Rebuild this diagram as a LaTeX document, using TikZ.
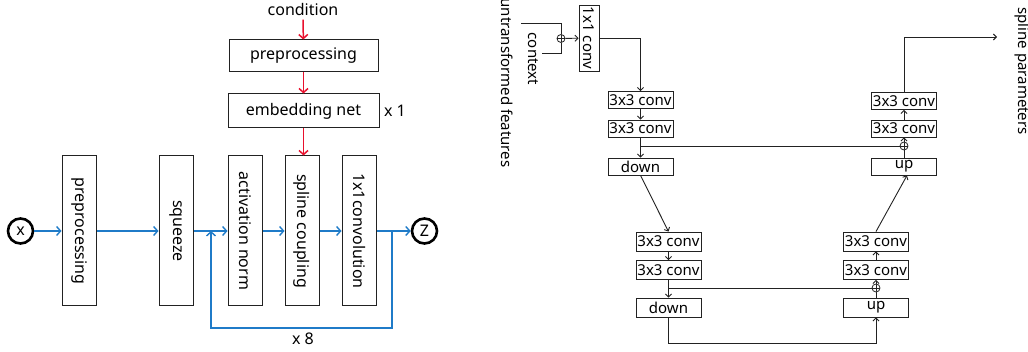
\documentclass[tikz,border=0pt]{standalone}
\usepackage{fontspec}
\setmainfont{Noto Sans}
\usetikzlibrary{arrows.meta,calc}
\definecolor{flowblue}{HTML}{1F7BC8}
\definecolor{condred}{HTML}{E8102D}
\definecolor{ink}{HTML}{222222}
\begin{document}
\begin{tikzpicture}[x=1pt,y=-1pt,
  bigfont/.style={font=\fontsize{16}{19}\selectfont},
  smallfont/.style={font=\fontsize{15}{18}\selectfont},
  bigbox/.style={draw=ink, line width=1pt, inner sep=0pt, bigfont},
  vbox/.style={bigbox, minimum width=34pt, minimum height=150pt},
  smallbox/.style={draw=ink, line width=0.9pt, inner sep=0pt, minimum width=65pt, minimum height=17pt, smallfont},
  lowbox/.style={smallbox, minimum height=19pt},
  circ/.style={circle, draw, line width=2.6pt, minimum size=25pt, inner sep=0pt, bigfont},
  blueflow/.style={draw=flowblue, line width=1.4pt, -{Straight Barb[length=4pt,width=9pt]}},
  blueline/.style={draw=flowblue, line width=1.4pt},
  redflow/.style={draw=condred, line width=1.5pt, -{Straight Barb[length=4pt,width=9pt]}},
  thinline/.style={draw=ink, line width=0.9pt},
  thinarr/.style={thinline, -{Straight Barb[length=3pt,width=6pt]}},
  oplus/.style={circle, draw=ink, line width=0.8pt, minimum size=8pt, inner sep=0pt,
    path picture={\draw[ink, line width=0.8pt] (path picture bounding box.north) -- (path picture bounding box.south)
      (path picture bounding box.west) -- (path picture bounding box.east);}}
]
\useasboundingbox (0,0) rectangle (1028,352);

% ---------------- left diagram ----------------
\node[bigfont] (cond) at (303,10) {condition};
\node[bigbox, minimum width=149pt, minimum height=32pt] (cpre) at (303.5,56) {preprocessing};
\node[bigbox, minimum width=151pt, minimum height=34pt] (emb) at (303.5,111) {embedding net};
\node[bigfont] (xone) at (395,111) {x 1};

\node[vbox] (pre) at (79,231) {\rotatebox{-90}{preprocessing}};
\node[vbox] (sq) at (176,231) {\rotatebox{-90}{squeeze}};
\node[vbox] (act) at (245,231) {\rotatebox{-90}{activation norm}};
\node[vbox] (spl) at (302,231) {\rotatebox{-90}{spline coupling}};
\node[vbox] (cnv) at (359,231) {\rotatebox{-90}{1x1convolution}};

\node[circ] (x) at (20.5,231) {x};
\node[circ] (z) at (424.5,231) {Z};

\draw[redflow] (cond) -- (cpre);
\draw[redflow] (cpre) -- (emb);
\draw[redflow] (emb.south) -- (emb.south |- spl.north);

\draw[blueflow] (x) -- (pre);
\draw[blueflow] (pre) -- (sq);
\draw[blueflow] (sq) -- (act);
\draw[blueflow] (act) -- (spl);
\draw[blueflow] (spl) -- (cnv);
\draw[blueflow] (cnv) -- (z);

\coordinate (lr) at (392,231);
\coordinate (lrb) at (392,328);
\coordinate (llb) at (211,328);
\coordinate (ll) at (211,231);
\draw[blueflow] (lr) -- (lrb) -- (llb) -- (ll);
\node[bigfont] (xeight) at (303,339) {x 8};

% ---------------- right diagram ----------------
\node[smallfont, rotate=-90] (uft) at (507,83) {untransformed features};
\node[smallfont, rotate=-90] (ctxt) at (533,59) {context};
\node[smallfont, rotate=-90] (spt) at (1022,71) {spline parameters};

\node[oplus] (op0) at (561,38.5) {};
\node[draw=ink, line width=0.9pt, inner sep=0pt, minimum width=20pt, minimum height=66pt, smallfont] (c11) at (589,38) {\rotatebox{-90}{1x1 conv}};
\coordinate (uf) at (521,23);
\coordinate (ctx) at (542,53);
\draw[thinline] (uf) -| (op0.north);
\draw[thinline] (ctx) -| (op0.south);
\draw[thinarr] (op0) -- (c11);

% upper left
\node[smallbox] (c1) at (640.5,100) {3x3 conv};
\node[smallbox] (c2) at (640.5,128.5) {3x3 conv};
\node[smallbox] (dn) at (640.5,166.5) {down};
% upper right
\node[smallbox] (rc1) at (904,101) {3x3 conv};
\node[smallbox] (rc2) at (904,128.5) {3x3 conv};
\node[oplus] (op1) at (904,146) {};
\node[smallbox] (up) at (904,166.5) {up};
% lower left
\node[lowbox] (lc1) at (668.5,241.5) {3x3 conv};
\node[lowbox] (lc2) at (668.5,270) {3x3 conv};
\node[lowbox] (ldn) at (668.5,307.5) {down};
% lower right
\node[lowbox] (lrc1) at (876,241.5) {3x3 conv};
\node[lowbox] (lrc2) at (876,270) {3x3 conv};
\node[oplus] (op2) at (876,288) {};
\node[lowbox] (lup) at (876,307.5) {up};

\draw[thinarr] (c11.east |- op0) -| (c1.north);
\draw[thinarr] (c1) -- (c2);
\draw[thinarr] (c2) -- (dn);
\coordinate (s1) at (c2.south |- op1);
\draw[thinline] (s1) -- (op1);
\draw[thinarr] (dn.south) -- (lc1.north);
\draw[thinarr] (lc1) -- (lc2);
\draw[thinarr] (lc2) -- (ldn);
\coordinate (s2) at (lc2.south |- op2);
\draw[thinline] (s2) -- (op2);
\coordinate (bl) at (668.5,343);
\draw[thinarr] (ldn.south) -- (bl) -| (lup.south);
\draw[thinline] (lup) -- (op2);
\draw[thinarr] (op2) -- (lrc2);
\draw[thinarr] (lrc2) -- (lrc1);
\coordinate (upin) at ($(up.south)+(3,0)$);
\draw[thinarr] (lrc1.north) -- (upin);
\draw[thinline] (up) -- (op1);
\draw[thinarr] (op1) -- (rc2);
\draw[thinarr] (rc2) -- (rc1);
\coordinate (outt) at (997,37);
\draw[thinarr] (rc1.north) |- (outt);
\end{tikzpicture}
\end{document}
